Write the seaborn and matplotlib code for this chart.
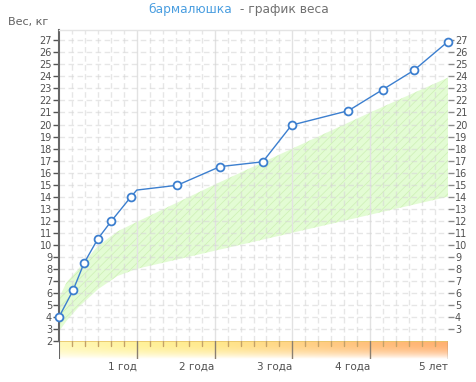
import numpy as np
import matplotlib.pyplot as plt
import seaborn as sns

# возраст (годы) и вес (кг)
age = [0, 0.18, 0.32, 0.50, 0.67, 0.92, 1.0, 1.52, 2.07, 2.62, 2.99, 3.72, 4.16, 4.56, 5.0]
weight = [4.0, 6.2, 8.45, 10.5, 11.95, 13.95, 14.55, 14.95, 16.5, 16.9, 19.95, 21.15, 22.9, 24.5, 26.9]
marked = [True] * 6 + [False] + [True] * 8

# коридор нормы
norm_age = [0, 0.1, 0.25, 0.5, 0.75, 1, 2, 3, 4, 5]
norm_low = [2.8, 3.7, 4.8, 6.3, 7.4, 8.0, 9.5, 11.0, 12.5, 14.0]
norm_high = [5.6, 6.9, 8.0, 9.9, 11.1, 11.9, 15.0, 18.0, 21.0, 23.9]

left_ticks = list(range(2, 28))
right_ticks = list(range(3, 28))
year_ticks = [1, 2, 3, 4, 5]
year_labels = ["1 год", "2 года", "3 года", "4 года", "5 лет"]

sns.set_style("white")
plt.rcParams["font.family"] = ["DejaVu Sans"]
plt.rcParams["hatch.linewidth"] = 0.5
plt.rcParams["hatch.color"] = "#cdf0b4"

W, H = 476, 382
fig = plt.figure(figsize=(W / 100, H / 100), dpi=100)
ax = fig.add_axes([59 / W, 1 - 341 / H, 389 / W, (341 - 29.5) / H])

# коридор нормы
ax.fill_between(norm_age, norm_low, norm_high, facecolor="#e3fcd4",
                edgecolor="#cdf0b4", hatch="////", linewidth=0, zorder=0.5)

# сетка
for v in np.arange(1, 30) / 6:
    if abs(v - round(v)) < 1e-6:
        ax.axvline(v, color="#e2e2e2", lw=1, zorder=1)
    else:
        ax.axvline(v, color="#d6d6d6", lw=1, ls=(0, (4, 2.5)), alpha=0.6, zorder=1)
for k in right_ticks:
    ax.axhline(k, color="#d6d6d6", lw=1, ls=(0, (4, 2.5)), alpha=0.6, zorder=1)

# линия веса
sns.lineplot(x=age, y=weight, ax=ax, color="#3c7fcf", lw=1, zorder=3)
mx = [a for a, m in zip(age, marked) if m]
my = [w for w, m in zip(weight, marked) if m]
sns.scatterplot(x=mx, y=my, ax=ax, s=32, color="white", edgecolor="#3c7fcf",
                linewidth=1.3, zorder=4, clip_on=False)

ax.set_xlim(0, 5)
ax.set_ylim(2, 27.9)
ax.set_xticks([])
ax.set_yticks(left_ticks)
ax.tick_params(axis="y", length=4, width=1, color="#555555", labelsize=7,
               labelcolor="#505050", pad=1, left=True)
for s in ["bottom", "right"]:
    ax.spines[s].set_visible(False)
ax.spines["top"].set_color("#e4e4e4")
ax.spines["top"].set_linewidth(1)
ax.spines["left"].set_color("#666666")
ax.spines["left"].set_linewidth(1.5)

sec = ax.secondary_yaxis("right")
sec.set_yticks(right_ticks)
sec.spines["right"].set_visible(False)
sec.tick_params(length=4, width=1, color="#8a8a8a", labelsize=7,
                labelcolor="#505050", pad=1)

# полоса возраста
bx = fig.add_axes([59 / W, 1 - 359 / H, 389 / W, 18 / H])
stops_x = [0, 1, 2, 3, 4, 5]
stops_c = ["#fff8b8", "#fff29a", "#ffe88c", "#ffd486", "#ffc07c", "#ffb070"]
rgb = np.array([[int(c[i:i + 2], 16) / 255 for i in (1, 3, 5)] for c in stops_c])
xs = np.linspace(0, 5, 400)
row = np.stack([np.interp(xs, stops_x, rgb[:, i]) for i in range(3)], axis=-1)
t = np.linspace(0, 1, 40)[:, None, None]
f = np.clip(1 - t ** 2.4, 0, 1)
img = row[None, :, :] * f + (1 - f)
bx.imshow(img, extent=[0, 5, 0, 1], aspect="auto", origin="upper", zorder=0)
bx.axhline(1, color="#e6c468", lw=1.2)
for v in np.arange(1, 30) / 6:
    if abs(v - round(v)) > 1e-6:
        bx.plot([v, v], [1, 0.7], color="#c4a268", lw=1)
for v in year_ticks:
    bx.plot([v, v], [1, 0], color="#8a7f70", lw=1)
bx.plot([0, 0], [1, 0], color="#666666", lw=1.5)
bx.set_xlim(0, 5)
bx.set_ylim(0, 1)
bx.axis("off")
for v, lab in zip(year_ticks, year_labels):
    bx.text(v, -0.15, lab, ha="right", va="top", fontsize=7.5, color="#505050")

# заголовки
fig.text(232 / W, 1 - 9 / H, "бармалюшка", ha="right", va="center",
         fontsize=8.8, color="#4a9ee0")
fig.text(236 / W, 1 - 9 / H, " - график веса", ha="left", va="center",
         fontsize=8.8, color="#707070")
fig.text(8 / W, 1 - 22 / H, "Вес, кг", ha="left", va="center",
         fontsize=8, color="#606060")

fig.savefig("out.png", dpi=100)
